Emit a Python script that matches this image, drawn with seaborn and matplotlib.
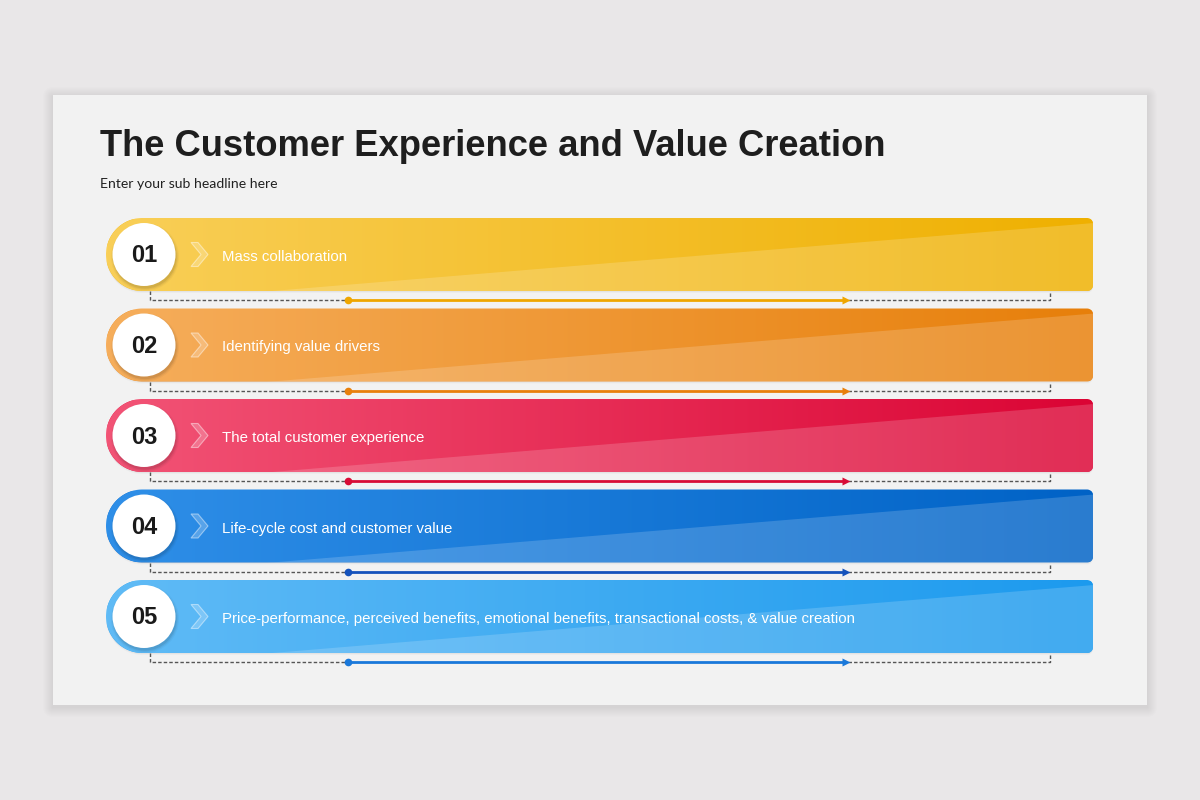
import numpy as np
import pandas as pd
import matplotlib
matplotlib.use("Agg")
import matplotlib.pyplot as plt
import seaborn as sns
from matplotlib.patches import FancyBboxPatch, PathPatch, Circle, Polygon
from matplotlib.path import Path
from matplotlib.colors import to_rgba
from matplotlib.transforms import Affine2D

# ---------------- data ----------------
title = "The Customer Experience and Value Creation"
subtitle = "Enter your sub headline here"
steps = ["01", "02", "03", "04", "05"]
labels = [
    "Mass collaboration",
    "Identifying value drivers",
    "The total customer experience",
    "Life-cycle cost and customer value",
    "Price-performance, perceived benefits, emotional benefits, transactional costs, & value creation",
]
left_colors = ["#F9CF58", "#F6AE5C", "#F25476", "#2F8FE8", "#60BBF6"]
right_colors = ["#EFB000", "#E77F0A", "#DB0434", "#0062C6", "#1C9AEE"]
line_colors = ["#EFA600", "#E8800C", "#D80C36", "#1452BC", "#1A78DA"]

# ---------------- layout (pixels) ----------------
W, H = 1200, 800
ROW0, ROW_GAP, BAR_H = 254.5, 90.5, 73.0
X_LEFT, X_RIGHT = 106, 1093

sns.set_theme(style="white")
plt.rcParams["font.family"] = ["Liberation Sans", "DejaVu Sans"]

fig = plt.figure(figsize=(12, 8), dpi=100, facecolor="#E9E7E8")
ax = fig.add_axes([0, 0, 1, 1])
ax.set_facecolor("#E9E7E8")

df = pd.DataFrame({"step": steps, "label": labels})
df["ycen"] = ROW0 + ROW_GAP * np.arange(len(df))
df["span"] = X_RIGHT

sns.barplot(data=df, x="span", y="ycen", hue="step", palette=right_colors,
            orient="h", native_scale=True, width=BAR_H / ROW_GAP,
            saturation=1, legend=False, ax=ax, zorder=3)

ax.set_xlim(0, W)
ax.set_ylim(H, 0)
ax.axis("off")

# card with soft, diffuse shadow
for k in range(10):
    pad = 10 - k
    ax.add_patch(FancyBboxPatch((53 - pad, 95 - pad + 2), 1094 + 2 * pad, 610 + 2 * pad,
                                boxstyle="round,pad=0,rounding_size=%d" % max(pad, 1),
                                fc="black", ec="none", alpha=0.006, zorder=0))
ax.add_patch(FancyBboxPatch((53, 95), 1094, 610, boxstyle="square,pad=0",
                            fc="#F2F2F2", ec="none", zorder=0.5))

ax.text(100, 156, title, fontsize=26.2, fontweight="bold", color="#1E1E1E",
        ha="left", va="baseline", zorder=5)
ax.text(100, 184, subtitle, fontsize=10.1, color="#222222", ha="left", va="center",
        family=["Lato", "DejaVu Sans"], zorder=5)


def band_path(x0, x1, t, b, rr=6, n=40):
    r = (b - t) / 2
    cx, cy = x0 + r, (t + b) / 2
    pts = [(cx, t), (x1 - rr, t)]
    th = np.linspace(1.5 * np.pi, 2 * np.pi, n)
    pts += list(zip(x1 - rr + rr * np.cos(th), t + rr + rr * np.sin(th)))
    th = np.linspace(0, 0.5 * np.pi, n)
    pts += list(zip(x1 - rr + rr * np.cos(th), b - rr + rr * np.sin(th)))
    pts.append((cx, b))
    th = np.linspace(0.5 * np.pi, 1.5 * np.pi, 2 * n)
    pts += list(zip(cx + r * np.cos(th), cy + r * np.sin(th)))
    pts.append((cx, t))
    return Path(np.array(pts), closed=True)


bars = [p for p in ax.patches if p.get_zorder() == 3]
bars.sort(key=lambda p: p.get_y())
for i, p in enumerate(bars):
    t = p.get_y()
    b = t + p.get_height()
    c = (t + b) / 2
    path = band_path(X_LEFT, X_RIGHT, t, b)
    # soft shadow
    for k, a in enumerate([0.025, 0.035]):
        sh = PathPatch(path.transformed(Affine2D().translate(0, 2 - k)),
                       fc="black", ec="none", alpha=a, zorder=2)
        ax.add_patch(sh)
    clip = PathPatch(path, fc="none", ec="none", transform=ax.transData)
    ax.add_patch(clip)
    p.set_x(X_LEFT)
    p.set_width(X_RIGHT - X_LEFT)
    p.set_clip_path(clip)
    # horizontal gradient
    lc = np.array(to_rgba(left_colors[i]))
    rc = np.array(to_rgba(right_colors[i]))
    f = np.linspace(0, 1, 256)[:, None]
    grad = (lc * (1 - f) + rc * f)[None, :, :]
    im = ax.imshow(grad, extent=(X_LEFT, X_RIGHT, b, t), aspect="auto",
                   interpolation="bilinear", zorder=3.5)
    im.set_clip_path(clip)
    # lighter lower wedge
    wedge = Polygon([(260, b + 1), (X_RIGHT + 1, t + 5), (X_RIGHT + 1, b + 1)],
                    closed=True, fc="white", ec="none", alpha=0.17, zorder=3.7)
    ax.add_patch(wedge)
    wedge.set_clip_path(clip)
    # circle shadow + circle
    for k, a in enumerate([0.03, 0.05, 0.07]):
        ax.add_patch(Circle((145, c + 2.5), 34 - 1.2 * k, fc="black", ec="none", alpha=a, zorder=4))
    ax.add_patch(Circle((144, c), 31.5, fc="white", ec="none", zorder=4.5))
    ax.text(144, c + 1.5, steps[i], fontsize=17, fontweight="bold", color="#1A1A1A",
            ha="center", va="center", zorder=5)
    # chevron
    chev = Polygon([(191, c - 12), (198, c - 12), (208, c), (198, c + 12), (191, c + 12), (201, c)],
                   closed=True, fc=(1, 1, 1, 0.22), ec=(1, 1, 1, 0.45), lw=0.8, zorder=5)
    ax.add_patch(chev)
    ax.text(222, c + 1, labels[i], fontsize=10.8, color="white", ha="left",
            va="center_baseline", zorder=5)
    # connector
    L = b + 9
    ax.plot([150, 150, 348], [b, L, L], ls=(0, (2.5, 1.5)), lw=1, color="#555555", zorder=4)
    ax.plot([848, 1050, 1050], [L, L, b], ls=(0, (2.5, 1.5)), lw=1, color="#555555", zorder=4)
    ax.plot([348, 846], [L, L], lw=2, color=line_colors[i], solid_capstyle="butt", zorder=4.5)
    ax.plot([348], [L], marker="o", ms=5.5, color=line_colors[i], mec="none", zorder=4.6)
    ax.plot([846], [L], marker=">", ms=5.5, color=line_colors[i], mec="none", zorder=4.6)

fig.savefig("out.png", dpi=100, facecolor=fig.get_facecolor())
